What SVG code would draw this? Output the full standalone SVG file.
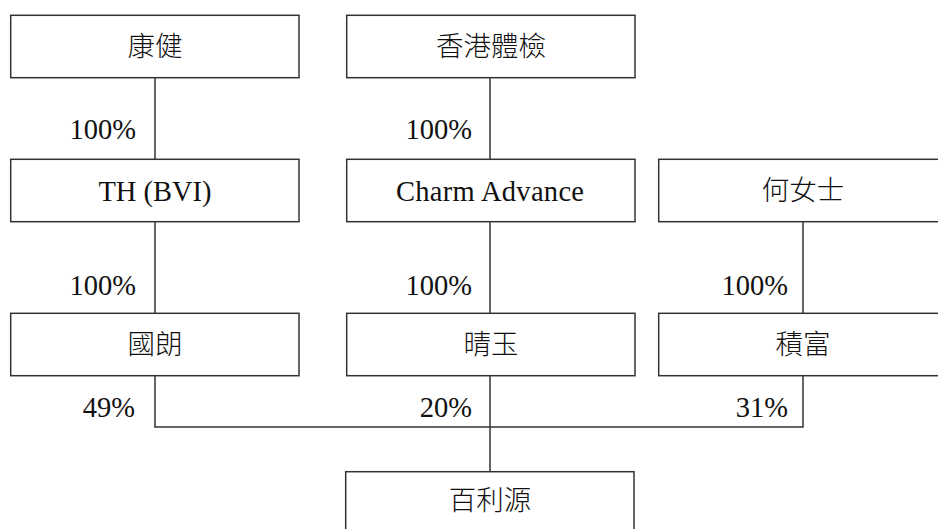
<svg xmlns="http://www.w3.org/2000/svg" width="938" height="529" viewBox="0 0 938 529">
<style>
.box{fill:#fff;stroke:#333;stroke-width:1.5}
.t{font-family:"Liberation Serif","Noto Sans CJK TC",serif;font-size:28.5px;fill:#111;text-anchor:middle}
.k{font-weight:300;font-size:27.5px}
.p{font-family:"Liberation Serif",serif;font-size:28.5px;fill:#111;text-anchor:end}
.c{fill:none;stroke:#333;stroke-width:1.5}
</style>
<rect width="938" height="529" fill="#fff"/>
<g id="connectors">
<path class="c" d="M155 78V159M490 78V159M155 222V313M490 222V313M803 222V313M155 376V427H803V376M490 376V472"/>
</g>
<g id="labels">
<text class="p" x="136" y="139">100%</text>
<text class="p" x="472" y="139">100%</text>
<text class="p" x="136" y="295">100%</text>
<text class="p" x="472" y="295">100%</text>
<text class="p" x="788" y="295">100%</text>
<text class="p" x="135" y="417">49%</text>
<text class="p" x="472" y="417">20%</text>
<text class="p" x="788" y="417">31%</text>
</g>
<g id="kangjian"><rect class="box" x="10.7" y="15.3" width="288.3" height="62.4"/><text class="t k" x="155" y="56">康健</text></g>
<g id="hk"><rect class="box" x="346.7" y="15.3" width="288.3" height="62.4"/><text class="t k" x="491" y="56">香港體檢</text></g>
<g id="th"><rect class="box" x="10.7" y="159.3" width="288.3" height="62.4"/><text class="t" x="155" y="201">TH (BVI)</text></g>
<g id="charm"><rect class="box" x="346.7" y="159.3" width="288.3" height="62.4"/><text class="t" x="490" y="201" textLength="188">Charm Advance</text></g>
<g id="ho"><rect class="box" x="658.7" y="159.3" width="300" height="62.4"/><text class="t k" x="803" y="200">何女士</text></g>
<g id="guolang"><rect class="box" x="10.7" y="313.3" width="288.3" height="62.4"/><text class="t k" x="155" y="354">國朗</text></g>
<g id="qingyu"><rect class="box" x="346.7" y="313.3" width="288.3" height="62.4"/><text class="t k" x="491" y="354">晴玉</text></g>
<g id="jifu"><rect class="box" x="658.7" y="313.3" width="300" height="62.4"/><text class="t k" x="803" y="354">積富</text></g>
<g id="bailiyuan"><rect class="box" x="345.7" y="471.7" width="288.3" height="70"/><text class="t k" x="490" y="510">百利源</text></g>
</svg>
